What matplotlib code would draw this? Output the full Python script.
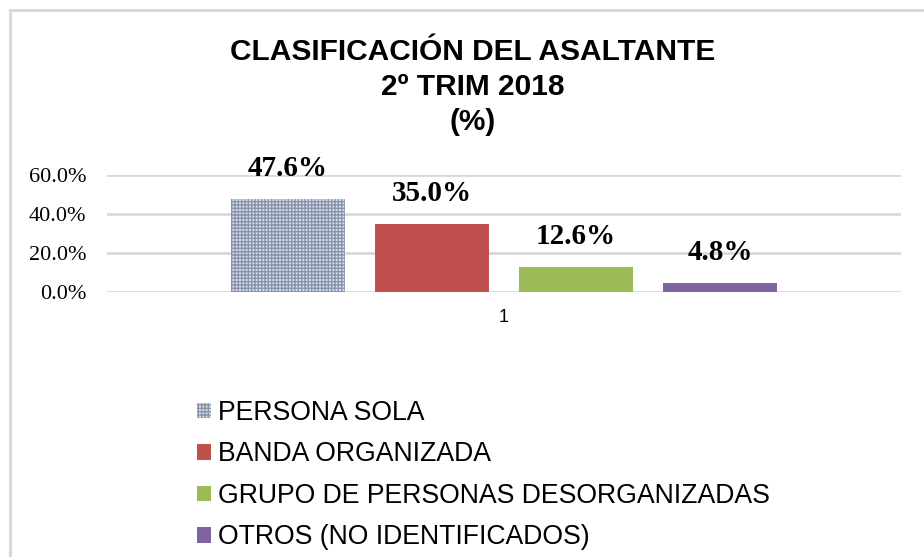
import matplotlib
matplotlib.use("Agg")
import matplotlib.pyplot as plt
from matplotlib.patches import Rectangle
from matplotlib.ticker import FuncFormatter

# Data
categories = ["PERSONA SOLA", "BANDA ORGANIZADA",
              "GRUPO DE PERSONAS DESORGANIZADAS", "OTROS (NO IDENTIFICADOS)"]
values = [47.6, 35.0, 12.6, 4.8]
group_label = ["1"]
y_ticks = [0, 20, 40, 60]
title_lines = ["CLASIFICACIÓN DEL ASALTANTE", "2º TRIM 2018", "(%)"]

colors = ["#d3dae8", "#C0504D", "#9BBB59", "#8064A2"]

plt.rcParams['hatch.linewidth'] = 0.9

fig = plt.figure(figsize=(9.24, 5.57), dpi=100)
W, H = 924, 557

# outer border (top-left visible)
fig.patches.append(Rectangle((10 / W, -0.2), 1.5, 1 - 10 / H + 0.2,
                             transform=fig.transFigure, fill=False,
                             edgecolor="#d9d9d9", linewidth=2.2, zorder=0))

ax = fig.add_axes([107 / W, 1 - 292 / H, (901 - 107) / W, (292 - 175) / H])
ax.set_xlim(0.5, 1.5)
ax.set_ylim(0, 60)

step = 0.1814
width = 0.1436
handles = []
for i, (cat, v, c) in enumerate(zip(categories, values, colors)):
    x = 1 + (i - 1.5) * step
    if i == 0:
        b = ax.bar(x, v, width, color=c, edgecolor="#8692ab", hatch="+++++",
                   linewidth=0, label=cat, zorder=3)
    else:
        b = ax.bar(x, v, width, color=c, linewidth=0, label=cat, zorder=3)
    handles.append(b)
    ax.annotate(f"{v:.1f}%", (x, v), xytext=(0, 22), textcoords="offset points",
                ha="center", va="center", fontsize=21, fontweight="bold",
                family="Liberation Serif", color="black")

ax.set_yticks(y_ticks)
ax.yaxis.set_major_formatter(FuncFormatter(lambda v, p: f"{v:.1f}%"))
ax.set_xticks([1])
ax.set_xticklabels(group_label)
for lab in ax.get_yticklabels():
    lab.set_family("Liberation Serif")
    lab.set_fontsize(16)
for lab in ax.get_xticklabels():
    lab.set_family("Liberation Sans")
    lab.set_fontsize(13)
ax.tick_params(axis="y", length=0, pad=15)
ax.tick_params(axis="x", length=0, pad=12)
for s in ax.spines.values():
    s.set_visible(False)
ax.grid(axis="y", color="#d9d9d9", linewidth=2, zorder=0)
ax.set_axisbelow(True)

# title
for k, (t, yc) in enumerate(zip(title_lines, [52, 87, 122])):
    fig.text(472.5 / W, 1 - yc / H, t, ha="center", va="center",
             fontsize=21.5, fontweight="bold", family="Liberation Sans")

leg = fig.legend(handles=handles, labels=categories, loc="upper left",
                 bbox_to_anchor=(197 / W, 1 - 400 / H), frameon=False,
                 prop={"family": "Liberation Sans", "size": 19.2},
                 handlelength=0.52, handleheight=0.52, handletextpad=0.25,
                 labelspacing=0.58, borderpad=0, borderaxespad=0)

fig.savefig("out.png", dpi=100)
